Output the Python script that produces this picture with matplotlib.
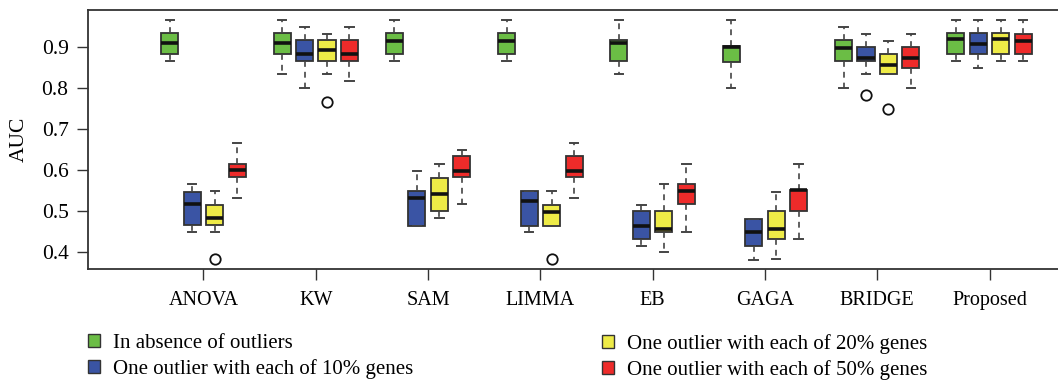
import matplotlib
matplotlib.use("Agg")
import matplotlib.pyplot as plt
from matplotlib.patches import Patch

methods = ["ANOVA", "KW", "SAM", "LIMMA", "EB", "GAGA", "BRIDGE", "Proposed"]
conditions = ["In absence of outliers", "One outlier with each of 10% genes",
              "One outlier with each of 20% genes", "One outlier with each of 50% genes"]
colors = ["#6bbd45", "#3a54a4", "#eeeb47", "#ee2b2a"]

# per condition: [whislo, q1, median, q3, whishi] for each method
absence = [
    [0.867, 0.884, 0.910, 0.934, 0.967],
    [0.834, 0.884, 0.910, 0.934, 0.967],
    [0.867, 0.884, 0.916, 0.934, 0.967],
    [0.867, 0.884, 0.916, 0.934, 0.967],
    [0.834, 0.867, 0.910, 0.917, 0.967],
    [0.800, 0.865, 0.900, 0.903, 0.967],
    [0.800, 0.867, 0.899, 0.917, 0.950],
    [0.867, 0.884, 0.920, 0.934, 0.967],
]
out10 = [
    [0.450, 0.465, 0.517, 0.547, 0.565],
    [0.800, 0.866, 0.884, 0.917, 0.950],
    [0.464, 0.464, 0.533, 0.549, 0.599],
    [0.450, 0.464, 0.525, 0.549, 0.549],
    [0.415, 0.431, 0.464, 0.499, 0.516],
    [0.381, 0.415, 0.450, 0.481, 0.481],
    [0.834, 0.867, 0.875, 0.901, 0.933],
    [0.850, 0.884, 0.909, 0.934, 0.967],
]
out20 = [
    [0.450, 0.465, 0.482, 0.515, 0.550],
    [0.834, 0.866, 0.893, 0.917, 0.933],
    [0.482, 0.499, 0.542, 0.580, 0.616],
    [0.464, 0.464, 0.498, 0.516, 0.549],
    [0.399, 0.448, 0.457, 0.499, 0.566],
    [0.383, 0.432, 0.456, 0.499, 0.547],
    [0.834, 0.834, 0.858, 0.884, 0.916],
    [0.867, 0.884, 0.920, 0.934, 0.967],
]
out50 = [
    [0.533, 0.582, 0.600, 0.616, 0.666],
    [0.817, 0.866, 0.884, 0.917, 0.950],
    [0.517, 0.584, 0.599, 0.634, 0.650],
    [0.533, 0.584, 0.599, 0.634, 0.666],
    [0.450, 0.517, 0.549, 0.565, 0.616],
    [0.432, 0.500, 0.551, 0.552, 0.616],
    [0.800, 0.850, 0.875, 0.901, 0.933],
    [0.867, 0.884, 0.916, 0.933, 0.967],
]
# outlier points per method
fliers_absence = [[], [], [], [], [], [], [], []]
fliers_10 = [[], [], [], [], [], [], [0.783], []]
fliers_20 = [[0.384], [0.767], [], [0.383], [], [], [0.749], []]
fliers_50 = [[], [], [], [], [], [], [], []]

all_stats = [absence, out10, out20, out50]
all_fliers = [fliers_absence, fliers_10, fliers_20, fliers_50]
offsets = [-0.3, -0.1, 0.1, 0.3]

plt.rcParams['font.family'] = ['Liberation Serif', 'DejaVu Serif']
fig = plt.figure(figsize=(10.58, 3.86), dpi=100)
ax = fig.add_axes([88/1058, (386-269)/386, (1062-88)/1058, (269-10.3)/386])

edge = "#333333"
for ci in range(4):
    stats = []
    pos = []
    for mi in range(len(methods)):
        lo, q1, med, q3, hi = all_stats[ci][mi]
        stats.append(dict(whislo=lo, q1=q1, med=med, q3=q3, whishi=hi,
                          fliers=all_fliers[ci][mi]))
        pos.append(mi + 1 + offsets[ci])
    ax.bxp(stats, positions=pos, widths=0.152, patch_artist=True, showfliers=True,
           boxprops=dict(facecolor=colors[ci], edgecolor=edge, linewidth=1.3),
           medianprops=dict(color="#111111", linewidth=2.6, solid_capstyle='butt'),
           whiskerprops=dict(color="#444444", linewidth=1.2, linestyle=(0, (3.5, 3))),
           capprops=dict(color="#444444", linewidth=1.4),
           capwidths=0.075,
           flierprops=dict(marker='o', markerfacecolor='none', markeredgecolor='#111111',
                           markersize=7.5, markeredgewidth=1.3))

ax.set_xlim(-0.0285, 8 + (1062 - 989.5) / 112.3)
ax.set_ylim(0.3585, 0.9904)
ax.set_xticks(range(1, len(methods) + 1))
ax.set_xticklabels(methods, fontsize=14.5)
ax.set_yticks([0.4, 0.5, 0.6, 0.7, 0.8, 0.9])
ax.set_yticklabels(["0.4", "0.5", "0.6", "0.7", "0.8", "0.9"], fontsize=15.5)
ax.tick_params(axis='both', length=8, width=1.0, color="#333333", direction='out')
ax.tick_params(axis='x', pad=8)
ax.tick_params(axis='y', pad=6)
ax.set_ylabel("AUC", fontsize=15.5, labelpad=9)
for s in ax.spines.values():
    s.set_color("#333333")
    s.set_linewidth(1.3)

handles = [Patch(facecolor=c, edgecolor="#333333", linewidth=1.0) for c in colors]
kw = dict(frameon=False, fontsize=15, handlelength=0.58, handleheight=0.58,
          handletextpad=0.62, labelspacing=0.3, borderpad=0, borderaxespad=0,
          loc='upper left')
fig.legend(handles[:2], conditions[:2], bbox_to_anchor=(88/1058, 1 - 334/386), **kw)
fig.legend(handles[2:], conditions[2:], bbox_to_anchor=(602/1058, 1 - 334/386), **kw)

fig.savefig("out.png", dpi=100)
